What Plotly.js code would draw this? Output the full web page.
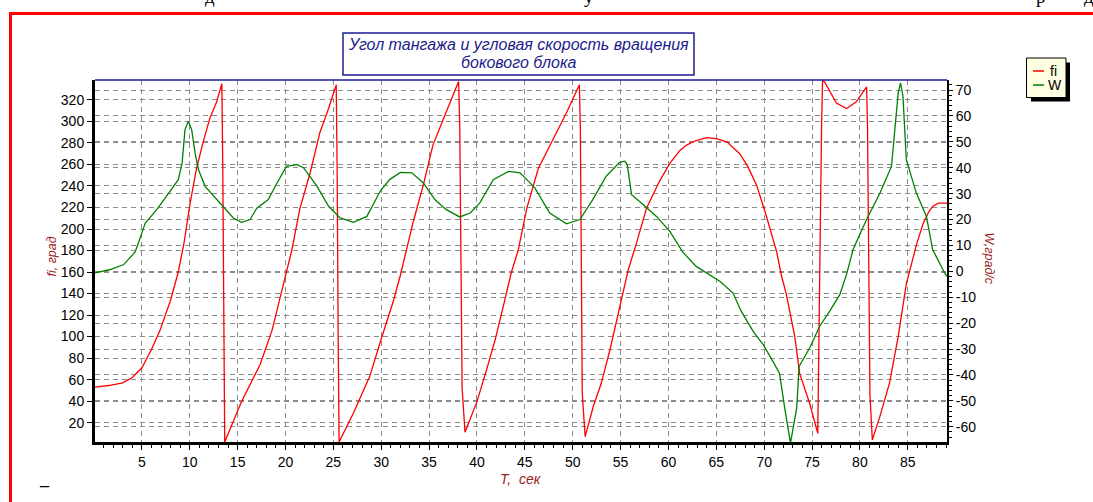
<!DOCTYPE html>
<html>
<head>
<meta charset="utf-8">
<script src="https://cdn.plot.ly/plotly-3.0.1.min.js"></script>
<style>
  html, body { margin:0; padding:0; background:#fff; }
  #wrap { position:relative; width:1093px; height:502px; overflow:hidden; }
  #chart { position:absolute; left:0; top:0; width:1093px; height:502px; }
  #frame { position:absolute; left:9px; top:12px; width:1200px; height:600px;
           border-top:3px solid #ff0000; border-left:3px solid #ff0000; pointer-events:none; }
  .frag { position:absolute; font-family:"Liberation Serif","Times New Roman",serif; font-size:19px;
          line-height:19px; top:-13px; color:#000; white-space:nowrap; }
  #dash { position:absolute; left:40px; top:476px; font-family:"Liberation Serif",serif; font-weight:bold;
          font-size:18px; line-height:18px; color:#000; }
</style>
</head>
<body>
<div id="wrap">
  <div id="chart"></div>
  <div id="frame"></div>
  <span class="frag" style="left:205px">д</span>
  <span class="frag" style="left:584px">у</span>
  <span class="frag" style="left:1036px">р</span>
  <span class="frag" style="left:1084px">д</span>
  <div id="dash">–</div>
</div>
<script>
// ---- data ----
const T_FI = [0.1, 1.5, 3.0, 4.0, 5.0, 6.0, 6.9, 8.0, 8.8, 9.4, 10.0, 10.7, 11.4, 12.1, 12.8, 13.35, 13.45, 13.55, 13.65,
  15.4, 16.65, 17.35, 18.6, 19.8, 20.65, 21.5, 22.6, 23.6, 24.5, 25.3, 25.4, 25.5, 25.6,
  27.1, 28.8, 29.9, 30.9, 31.3, 32.0, 32.65, 33.35, 34.4, 35.4, 36.8, 38.08, 38.2, 38.45, 38.75,
  40.0, 41.0, 41.9, 42.75, 43.6, 44.3, 45.2, 46.4, 48.0, 49.4, 50.7, 50.8, 51.0, 51.3,
  52.15, 53.0, 53.9, 54.75, 55.8, 56.7, 57.7, 59.1, 60.15, 61.2, 61.9, 62.8, 64.0, 65.0, 66.1, 67.45, 68.3, 69.2, 70.2, 71.3, 71.8, 72.3, 73.2, 73.7, 74.75, 75.6,
  75.65, 75.9, 76.0, 76.1, 76.3, 77.55, 78.6, 79.6, 80.7, 80.8, 81.05, 81.3,
  82.1, 83.1, 84.0, 84.85, 85.3, 85.9, 86.6, 87.2, 87.6, 88.2, 89.1];
const FI = [53, 54.5, 57, 62, 71, 88, 106, 134, 160, 187, 222, 256, 281, 303, 318, 335, 255, 100, 2,
  39.5, 61, 74, 106, 149, 180, 219, 253, 290, 312, 334, 250, 100, 2,
  29, 63, 95, 122, 134, 157, 180, 207, 241, 278, 309, 337, 297, 52, 11,
  39.5, 69, 97, 128, 160, 180, 219, 256, 284, 309, 334, 294, 47, 7,
  35, 57, 88, 122, 162, 188, 219, 245, 261, 273, 278, 282, 285, 284, 281, 270, 258, 241, 213, 179, 157, 140, 100, 66, 38, 10,
  50, 200, 297, 338, 337, 317, 312, 318, 332, 294, 46, 4,
  26, 57, 100, 149, 165, 185, 205, 216, 221, 224, 224];

const T_W = [0.1, 1.7, 3.1, 4.3, 5.35, 6.55, 7.8, 8.8, 9.2, 9.5, 9.85, 10.2, 10.55, 10.9, 11.6, 12.5, 13.5, 14.55, 15.4,
  16.3, 17.0, 18.2, 19.1, 20.1, 21.2, 21.9, 23.3, 24.5, 25.7, 27.1, 28.5, 29.9, 30.9, 32.0, 33.2, 34.4, 35.6, 36.8, 38.2,
  39.3, 40.3, 41.7, 43.3, 44.5, 46.05, 47.6, 49.35, 50.75, 52.1, 53.5, 54.9, 55.45, 55.7, 56.15, 57.35, 58.75, 60.15,
  61.5, 62.9, 64.0, 65.4, 66.75, 67.6, 68.85, 69.9, 70.9, 71.6, 72.15, 72.75, 73.4, 73.65, 74.75, 75.8, 76.85, 77.9,
  78.6, 79.3, 80.7, 82.1, 83.3, 83.65, 84.0, 84.25, 84.5, 84.85, 85.9, 86.95, 87.6, 88.85, 89.1];
const W = [-0.6, 0.7, 2.6, 7.5, 18.6, 23.8, 30.2, 35.4, 41.8, 54.7, 57.9, 54.7, 45.7, 39.3, 32.8, 29, 25.1, 20.6, 18.9,
  20, 24.4, 27.7, 34, 40.5, 41.2, 39.9, 32.8, 25.1, 20.6, 18.9, 21.2, 31, 35.5, 38.2, 38, 34.1, 27.7, 23.8, 21,
  22.5, 26.4, 35.4, 38.6, 38, 32.2, 22.5, 18.3, 20, 27.7, 36.7, 42.1, 42.5, 41.2, 29.6, 25.8, 21.2, 15.4,
  7.4, 1.9, -0.6, -3.9, -8.4, -15.4, -23.2, -28.3, -34.7, -39.3, -52.8, -66.3, -52.8, -36.7, -29.6, -21.2, -15.4, -9,
  -1.3, 8.5, 20, 30.2, 40.5, 56, 68.8, 72.7, 67.6, 43.1, 30.2, 21.2, 8.4, -0.65, -2];

const X_TICKS = [5, 10, 15, 20, 25, 30, 35, 40, 45, 50, 55, 60, 65, 70, 75, 80, 85];
const FI_TICKS = [20, 40, 60, 80, 100, 120, 140, 160, 180, 200, 220, 240, 260, 280, 300, 320];
const W_TICKS = [-60, -50, -40, -30, -20, -10, 0, 10, 20, 30, 40, 50, 60, 70];

const TITLE_LINES = ['Угол тангажа и угловая скорость вращения', 'бокового блока'];
const X_TITLE = 'T,  сек';
const Y_TITLE = 'fi, град';
const Y2_TITLE = 'W,град/с';
const NAMES = ['fi', 'W'];
const COLORS = ['#ff0000', '#008000'];

// ---- geometry helpers (pixels -> paper) ----
const L = 95, R = 947, TOP = 80, BOT = 442;
const px = x => (x - L) / (R - L);
const py = y => (BOT - y) / (BOT - TOP);

const tickFont = {family: '"Liberation Sans", Arial, sans-serif', size: 14, color: '#000'};
const grid = {showgrid: true, gridcolor: '#8c8c8c', gridwidth: 1, griddash: '5px,4px', zeroline: false};

const traces = [
  {x: T_FI, y: FI, name: NAMES[0], type: 'scatter', mode: 'lines', line: {color: COLORS[0], width: 1.3}, yaxis: 'y'},
  {x: T_W, y: W, name: NAMES[1], type: 'scatter', mode: 'lines', line: {color: COLORS[1], width: 1.3}, yaxis: 'y2'}
];

const redTitle = {family: '"Liberation Sans", Arial, sans-serif', size: 14, color: '#9a1c1c'};
const redTitleSmall = {family: '"Liberation Sans", Arial, sans-serif', size: 12.5, color: '#9a1c1c'};

const layout = {
  width: 1093, height: 502,
  margin: {l: L, r: 1093 - R, t: TOP, b: 502 - BOT, pad: 0},
  paper_bgcolor: '#ffffff', plot_bgcolor: '#ffffff',
  showlegend: false,
  xaxis: Object.assign({
    range: [0.1, 89.1], tickmode: 'array', tickvals: X_TICKS, ticktext: X_TICKS.map(String),
    showline: true, linecolor: '#000', linewidth: 3,
    ticks: 'outside', ticklen: 5, tickwidth: 1, tickcolor: '#000', tickfont: tickFont,
    minor: {dtick: 1, tick0: 0, ticks: 'outside', ticklen: 3, tickcolor: '#000', showgrid: false}
  }, grid),
  yaxis: Object.assign({
    range: [2, 338.5], tickmode: 'array', tickvals: FI_TICKS, ticktext: FI_TICKS.map(String),
    showline: true, linecolor: '#000', linewidth: 3,
    ticks: 'outside', ticklen: 5, tickwidth: 1, tickcolor: '#000', tickfont: tickFont
  }, grid),
  yaxis2: Object.assign({
    overlaying: 'y', side: 'right',
    range: [-65.9, 73.86], tickmode: 'array', tickvals: W_TICKS, ticktext: W_TICKS.map(String),
    showline: true, linecolor: '#000', linewidth: 2,
    ticks: 'outside', ticklen: 4, tickwidth: 1, tickcolor: '#000', tickfont: tickFont,
    minor: {dtick: 2, tick0: 0, ticks: 'outside', ticklen: 3, tickcolor: '#000', showgrid: false}
  }, grid),
  shapes: [
    // top border of plot (blue)
    {type: 'line', xref: 'paper', yref: 'paper', x0: 0, x1: 1, y0: 1, y1: 1, line: {color: '#1c1ca0', width: 1.5}},
    // title box
    {type: 'rect', xref: 'paper', yref: 'paper', x0: px(343), x1: px(694), y0: py(33), y1: py(75),
     fillcolor: '#ffffff', line: {color: '#1c1c90', width: 1.5}},
    // legend shadow + box
    {type: 'rect', xref: 'paper', yref: 'paper', x0: px(1031), x1: px(1070), y0: py(62.5), y1: py(101.5),
     fillcolor: '#000000', line: {width: 0}},
    {type: 'rect', xref: 'paper', yref: 'paper', x0: px(1026.5), x1: px(1066), y0: py(58), y1: py(97.5),
     fillcolor: '#ffffe1', line: {color: '#000', width: 1}},
    {type: 'line', xref: 'paper', yref: 'paper', x0: px(1033), x1: px(1044), y0: py(71), y1: py(71), line: {color: COLORS[0], width: 1.5}},
    {type: 'line', xref: 'paper', yref: 'paper', x0: px(1033), x1: px(1044), y0: py(85), y1: py(85), line: {color: COLORS[1], width: 1.5}}
  ],
  annotations: [
    {xref: 'paper', yref: 'paper', x: px(518.5), y: py(45), xanchor: 'center', yanchor: 'middle', showarrow: false,
     text: '<i>' + TITLE_LINES[0] + '</i>', font: {family: '"Liberation Sans", Arial, sans-serif', size: 16, color: '#1c1c8c'}},
    {xref: 'paper', yref: 'paper', x: px(518.5), y: py(62.5), xanchor: 'center', yanchor: 'middle', showarrow: false,
     text: '<i>' + TITLE_LINES[1] + '</i>', font: {family: '"Liberation Sans", Arial, sans-serif', size: 16, color: '#1c1c8c'}},
    {xref: 'paper', yref: 'paper', x: px(521), y: py(478.5), xanchor: 'center', yanchor: 'middle', showarrow: false,
     text: '<i>' + X_TITLE + '</i>', font: redTitle},
    {xref: 'paper', yref: 'paper', x: px(51), y: py(256.5), xanchor: 'center', yanchor: 'middle', showarrow: false, textangle: -90,
     text: '<i>' + Y_TITLE + '</i>', font: redTitleSmall},
    {xref: 'paper', yref: 'paper', x: px(989), y: py(258.5), xanchor: 'center', yanchor: 'middle', showarrow: false, textangle: 90,
     text: '<i>' + Y2_TITLE + '</i>', font: redTitleSmall},
    {xref: 'paper', yref: 'paper', x: px(1048), y: py(71), xanchor: 'left', yanchor: 'middle', showarrow: false,
     text: NAMES[0], font: {family: '"Liberation Sans", Arial, sans-serif', size: 14, color: '#000'}},
    {xref: 'paper', yref: 'paper', x: px(1046), y: py(85), xanchor: 'left', yanchor: 'middle', showarrow: false,
     text: NAMES[1], font: {family: '"Liberation Sans", Arial, sans-serif', size: 14, color: '#000'}}
  ]
};

Plotly.newPlot('chart', traces, layout, {displayModeBar: false, staticPlot: true});
</script>
</body>
</html>
